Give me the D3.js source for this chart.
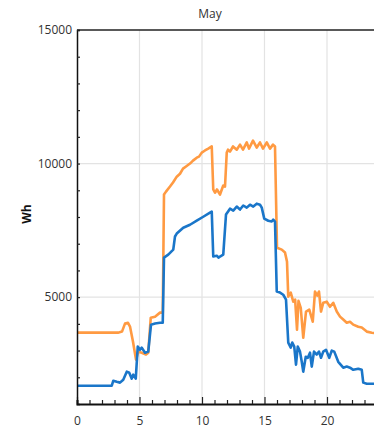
<!DOCTYPE html>
<html><head><meta charset="utf-8">
<script src="https://cdn.jsdelivr.net/npm/d3@7"></script>
<style>html,body{margin:0;padding:0;background:#fff;overflow:hidden}svg{display:block}</style>
</head><body>
<svg id="chart" width="374" height="428"></svg>
<script>
const title = "May";
const yLabel = "Wh";
const xTicks = [0, 5, 10, 15, 20];
const yTicks = [5000, 10000, 15000];

const orangeHours = [0,3.28,3.6,3.84,4.08,4.24,4.48,4.72,4.9,5.18,5.52,5.7,5.9,6.24,6.64,6.86,6.96,7.12,7.44,7.68,7.98,8.24,8.48,8.72,9.04,9.28,9.58,9.76,9.98,10.24,10.5,10.78,10.9,11.04,11.2,11.44,11.7,11.84,11.98,12.08,12.24,12.48,12.78,13.04,13.28,13.58,13.76,14.08,14.38,14.64,14.88,15.18,15.44,15.68,15.84,16.0,16.38,16.64,16.8,16.9,17.1,17.3,17.45,17.6,17.72,17.9,18.1,18.32,18.58,18.86,19.04,19.22,19.36,19.52,19.7,19.98,20.24,20.5,20.78,21.04,21.3,21.58,21.84,22.1,22.5,22.78,23.18,23.58,24];
const orangeWh = [3670,3670,3710,4010,4040,3900,3330,2660,2960,2920,2850,2920,4230,4270,4420,4420,8840,8950,9140,9290,9510,9620,9810,9890,10000,10110,10220,10260,10410,10490,10560,10640,9030,8910,9030,8840,9180,9140,10410,10520,10450,10640,10520,10710,10520,10790,10560,10860,10600,10790,10560,10790,10560,10710,10640,6850,6780,6670,6330,5020,5170,4830,4910,3780,4860,4600,3480,4460,4530,4080,5210,5060,5210,4460,4790,4830,4640,4790,4460,4270,4160,4040,4080,3970,3890,3860,3710,3670,3640];

const blueHours = [0,2.78,2.9,3.18,3.44,3.7,3.98,4.18,4.38,4.5,4.7,4.86,5.04,5.18,5.44,5.7,5.92,6.24,6.64,6.86,6.96,7.3,7.7,7.84,7.98,8.5,9.04,9.58,10.1,10.64,10.78,10.9,11.18,11.32,11.44,11.7,11.92,12.24,12.5,12.78,13.04,13.3,13.58,13.84,14.1,14.38,14.64,14.78,14.98,15.3,15.58,15.7,15.84,15.98,16.24,16.5,16.72,16.9,17.1,17.22,17.38,17.52,17.66,17.84,17.98,18.1,18.3,18.46,18.64,18.78,18.96,19.18,19.36,19.52,19.7,19.92,20.18,20.38,20.58,20.9,21.3,21.58,21.84,22.1,22.5,22.78,22.9,23.18,24];
const blueWh = [1685,1685,1870,1830,1800,1910,2210,2170,1950,2100,1950,3150,3030,3110,2920,2960,3970,4010,4040,4040,6480,6590,6780,7270,7380,7600,7710,7860,8010,8160,8200,6520,6550,6480,6520,6590,8090,8310,8240,8390,8280,8430,8350,8460,8390,8500,8460,8350,7940,7860,7830,7900,7830,5210,5170,5090,4910,3300,3110,3300,3150,2470,3150,2960,2580,2210,2770,2730,2920,2400,2960,2850,2960,2730,2960,3030,2730,3000,2960,2580,2360,2400,2360,2280,2320,2280,1800,1760,1760];

const L = 77, R = 377, T = 30, B = 404;
const svg = d3.select("#chart");
const x = d3.scaleLinear().domain([0, 24]).range([L, R]);
const y = d3.scaleLinear().domain([1000, 15000]).range([B, T]);
const font = "'Open Sans', 'Noto Sans', sans-serif";

svg.append("defs").append("clipPath").attr("id","clip")
  .append("rect").attr("x", L).attr("y", T).attr("width", R - L).attr("height", B - T);

// grid
svg.append("g").selectAll("line").data(xTicks.filter(d => d > 0)).join("line")
  .attr("x1", d => x(d)).attr("x2", d => x(d)).attr("y1", T).attr("y2", B)
  .attr("stroke", "#e3e3e3").attr("stroke-width", 1.2);
svg.append("g").selectAll("line").data(yTicks.filter(d => d < 15000)).join("line")
  .attr("x1", L).attr("x2", R).attr("y1", d => y(d)).attr("y2", d => y(d))
  .attr("stroke", "#e3e3e3").attr("stroke-width", 1.2);

// lines
const line = d3.line().x(d => x(d[0])).y(d => y(d[1]));
const g = svg.append("g").attr("clip-path", "url(#clip)");
g.append("path").datum(orangeHours.map((h, i) => [h, orangeWh[i]]))
  .attr("d", line).attr("fill", "none").attr("stroke", "#ff9a42").attr("stroke-width", 2.6).attr("stroke-linejoin", "round");
g.append("path").datum(blueHours.map((h, i) => [h, blueWh[i]]))
  .attr("d", line).attr("fill", "none").attr("stroke", "#1a76c9").attr("stroke-width", 2.6).attr("stroke-linejoin", "round");

// axes
const xAxis = svg.append("g").attr("transform", `translate(0,${B})`)
  .call(d3.axisBottom(x).tickValues(d3.range(0, 25, 1)).tickSize(-4).tickFormat(d => xTicks.includes(d) ? d : ""));
xAxis.select(".domain").attr("stroke", "#111").attr("stroke-width", 2);
xAxis.selectAll(".tick line").attr("stroke", "#222").attr("stroke-width", 1.2);
xAxis.selectAll(".tick").filter(d => xTicks.includes(d)).select("line").attr("y2", -7);
xAxis.selectAll("text").attr("y", 12).attr("font-family", font).attr("font-size", 12).attr("fill", "#333");

const yAxis = svg.append("g").attr("transform", `translate(${L},0)`)
  .call(d3.axisLeft(y).tickValues(d3.range(2000, 15001, 1000)).tickSize(-3).tickFormat(d => yTicks.includes(d) ? d : ""));
yAxis.select(".domain").attr("stroke", "#111").attr("stroke-width", 1.5);
yAxis.selectAll(".tick line").attr("stroke", "#222").attr("stroke-width", 1.2);
yAxis.selectAll("text").attr("x", -5).attr("font-family", font).attr("font-size", 12).attr("fill", "#333");

// top border
svg.append("line").attr("x1", L).attr("x2", R).attr("y1", y(15000)).attr("y2", y(15000))
  .attr("stroke", "#222").attr("stroke-width", 1.5);

svg.append("text").attr("x", 210).attr("y", 18).attr("text-anchor", "middle")
  .attr("font-family", font).attr("font-size", 12).attr("fill", "#333").text(title);
svg.append("text").attr("transform", "translate(31,214) rotate(-90)").attr("text-anchor", "middle")
  .attr("font-family", font).attr("font-size", 12).attr("font-weight", "bold").attr("fill", "#111").text(yLabel);
</script>
</body></html>
